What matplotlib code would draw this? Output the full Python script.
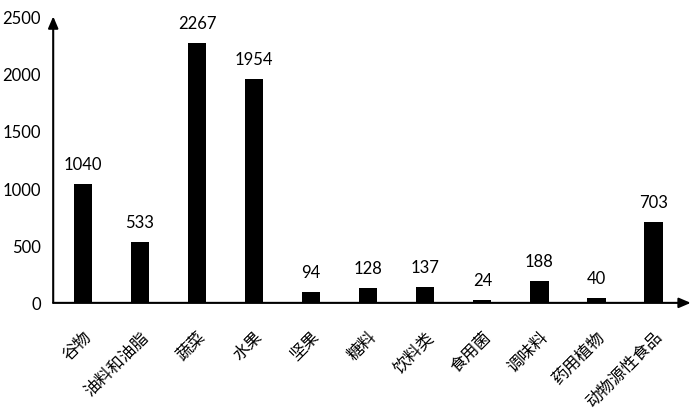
import matplotlib.pyplot as plt

plt.rcParams['font.family'] = ['Lato', 'Noto Sans CJK SC', 'DejaVu Sans']

categories = ["谷物", "油料和油脂", "蔬菜", "水果", "坚果", "糖料", "饮料类",
              "食用菌", "调味料", "药用植物", "动物源性食品"]
values = [1040, 533, 2267, 1954, 94, 128, 137, 24, 188, 40, 703]
y_ticks = [0, 500, 1000, 1500, 2000, 2500]

fig = plt.figure(figsize=(7, 4.14), dpi=100)
ax = fig.add_axes([0.076, 0.266, 0.900, 0.692])

x = list(range(len(categories)))
ax.bar(x, values, width=0.32, color="black")

for xi, v in zip(x, values):
    ax.text(xi, v + 105, str(v), ha="center", va="bottom", fontsize=12)

ax.set_xlim(-0.52, len(categories) - 0.48)
ax.set_ylim(0, 2500)
ax.set_yticks(y_ticks)
ax.set_xticks(x)
ax.set_xticklabels(categories, rotation=45, ha="right", rotation_mode="anchor",
                   family=['Noto Sans CJK SC', 'DejaVu Sans'], fontsize=12.5)
ax.tick_params(axis="both", length=0, labelsize=12)
ax.tick_params(axis="x", pad=18)
ax.tick_params(axis="y", pad=9)

for side in ["top", "right", "left", "bottom"]:
    ax.spines[side].set_visible(False)

# axis lines with arrow heads
ax.annotate("", xy=(0, 1.0), xytext=(0, 0), xycoords="axes fraction",
            arrowprops=dict(arrowstyle="-|>,head_width=0.3,head_length=0.7",
                            color="black", lw=1.5, shrinkA=0, shrinkB=0),
            annotation_clip=False)
ax.annotate("", xy=(1.012, 0), xytext=(0, 0), xycoords="axes fraction",
            arrowprops=dict(arrowstyle="-|>,head_width=0.3,head_length=0.7",
                            color="black", lw=1.5, shrinkA=0, shrinkB=0),
            annotation_clip=False)

fig.savefig("out.png", dpi=100)
